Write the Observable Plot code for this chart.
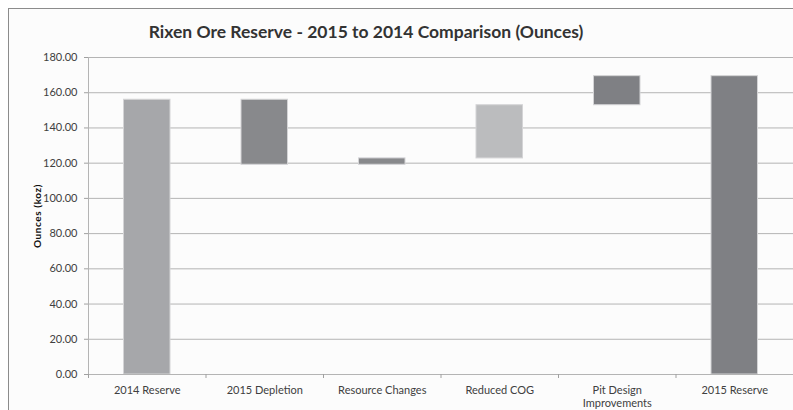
<!DOCTYPE html>
<html><head><meta charset="utf-8">
<script src="https://cdn.jsdelivr.net/npm/d3@7"></script>
<script src="https://cdn.jsdelivr.net/npm/@observablehq/plot@0.6"></script>
<style>
html,body{margin:0;padding:0;background:#fff;}
#wrap{position:relative;width:793px;height:410px;overflow:hidden;font-family:Lato,sans-serif;}
#frame{position:absolute;left:8px;top:8px;width:900px;height:500px;border:1px solid #8c8c8c;background:#fcfcfc;}
#title{position:absolute;left:0;top:20px;width:732px;height:24px;line-height:24px;text-align:center;font-family:Lato,sans-serif;font-weight:700;font-size:17.5px;color:#333;}
#chart{position:absolute;left:0;top:50px;}
#chart [aria-label="y-axis label"] text{font-weight:700;font-size:10px;letter-spacing:0.6px;fill:#111;}
</style>
</head><body>
<div id="wrap"><div id="frame"></div><div id="title">Rixen Ore Reserve - 2015 to 2014 Comparison (Ounces)</div><div id="chart"></div></div>
<script>
const categories = ["2014 Reserve", "2015 Depletion", "Resource Changes", "Reduced COG", "Pit Design\nImprovements", "2015 Reserve"];
const starts = [0, 156.0, 119.1, 122.7, 152.9, 0];
const ends = [156.0, 119.1, 122.7, 152.9, 169.4, 169.4];
const yTicks = [0, 20, 40, 60, 80, 100, 120, 140, 160, 180];
const barColors = ["#a6a7aa", "#88898c", "#88898c", "#bbbcbe", "#7f8084", "#7f8084"];

const idx = categories.map((_, i) => i);
const boundaries = d3.range(categories.length + 1);
const centers = idx.map(i => i + 0.5);

const chart = Plot.plot({
  width: 793,
  height: 360,
  marginLeft: 88,
  marginRight: 0,
  marginTop: 7,
  marginBottom: 36,
  style: {background: "transparent", fontFamily: "Lato, sans-serif", fontSize: "11px", color: "#404040"},
  x: {domain: [0, categories.length]},
  y: {domain: [0, 180]},
  color: {domain: categories, range: barColors},
  marks: [
    Plot.gridY(yTicks, {stroke: "#b4b4b4", strokeOpacity: 1}),
    Plot.rectY(idx, {x1: i => i, x2: i => i + 1, y1: i => starts[i], y2: i => ends[i], fill: i => categories[i], insetLeft: 35.5, insetRight: 35.5, stroke: "#d4d4d6", strokeWidth: 1}),
    Plot.ruleY([0], {stroke: "#b4b4b4"}),
    Plot.ruleX([0], {stroke: "#b4b4b4"}),
    Plot.axisY({ticks: yTicks, tickFormat: d3.format(".2f"), tickSize: 4, tickPadding: 7, stroke: "#a0a0a0", label: "Ounces (koz)", labelAnchor: "center", labelOffset: 55, labelArrow: false}),
    Plot.axisX({ticks: boundaries, tickSize: 4, tickFormat: () => "", stroke: "#a0a0a0", label: null}),
    Plot.axisX({ticks: centers, tickSize: 0, tickPadding: 10, tickFormat: d => categories[Math.floor(d)], label: null, lineHeight: 1.2})
  ]
});
document.getElementById("chart").appendChild(chart);
</script>
</body></html>
